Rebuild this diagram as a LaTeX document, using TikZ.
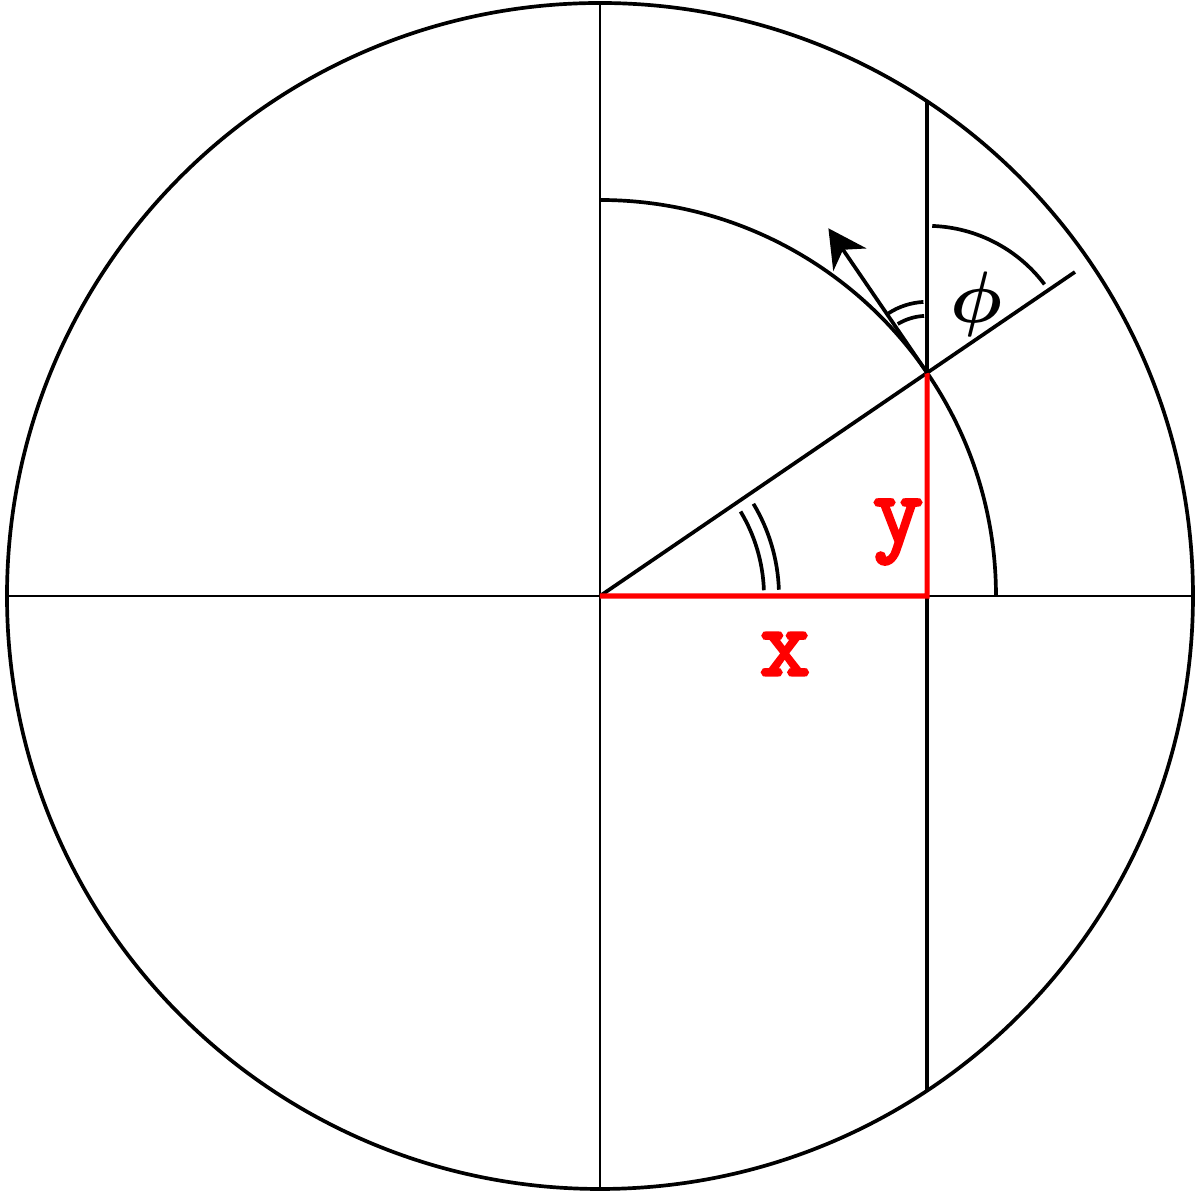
\documentclass[tikz,border=0pt]{standalone}
\usepackage{fontspec}
\usepackage{amsmath}
\newfontfamily\labelfont{Latin Modern Mono}[FakeBold=3]
\usetikzlibrary{arrows.meta}
\usetikzlibrary{positioning}

\begin{document}
\begin{tikzpicture}[line width=1.05pt]
    \useasboundingbox (-6,-5.97) rectangle (6,5.96);

    % points
    \coordinate(O) at (0,0);
    \coordinate(P) at (34.3:3.96);
    \coordinate(R) at (34.3:5.75);
    \coordinate(F) at (3.271,0);
    \coordinate(T) at (3.271,4.946);
    \coordinate(B) at (3.271,-4.946);
    \coordinate(A) at (2.284,3.677);
    \coordinate(W) at (180:5.93);
    \coordinate(E) at (0:5.93);
    \coordinate(N) at (90:5.93);
    \coordinate(S) at (270:5.93);

    \draw (O) circle (5.93);
    \draw[line width=0.5pt] (W) -- (E);
    \draw[line width=0.5pt] (N) -- (S);
    \draw (3.96,0) arc (0:90:3.96);
    \draw (O) -- (R);
    \draw (T) -- (B);
    \draw[red, line width=1.45pt] (O) -- (F) -- (P);
    \draw[-{Stealth[length=0.38cm, width=0.4cm, inset=0.12cm]}] (P) -- (A);

    % angle marks
    \draw (2:1.64) arc (2:31:1.64);
    \draw (2:1.79) arc (2:31:1.79);
    \draw ([shift={(93:0.57)}]P) arc (93:121:0.57);
    \draw ([shift={(93:0.71)}]P) arc (93:123:0.71);
    \draw ([shift={(88:1.47)}]P) arc (88:37:1.47);

    \node(xlab)[red, font=\labelfont\fontsize{28}{28}\selectfont] at (1.85,-0.58) {x};
    \node(ylab)[red, font=\labelfont\fontsize{28}{28}\selectfont] at (2.98,0.64) {y};
    \node(philab)[font=\fontsize{20}{20}\selectfont] at (3.76,2.92) {$\boldsymbol{\phi}$};

\end{tikzpicture}
\end{document}
